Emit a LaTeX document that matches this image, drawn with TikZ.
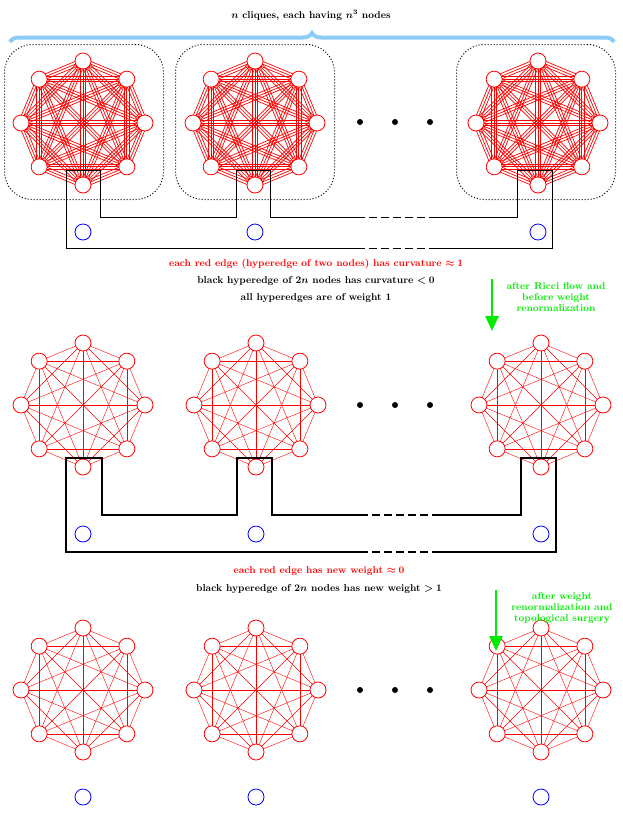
\documentclass[tikz,border=0pt]{standalone}
\usepackage{amsmath,bm}
\usetikzlibrary{calc,arrows.meta,decorations.pathreplacing}
\definecolor{lblue}{RGB}{140,205,245}
\definecolor{lgreen}{RGB}{0,235,0}
\tikzset{
  vtx/.style={circle,draw=red,fill=white,minimum size=16pt,inner sep=0pt,line width=0.8pt},
  bvtx/.style={circle,draw=blue,minimum size=16pt,inner sep=0pt,line width=0.8pt},
  redtxt/.style={text=red,font=\bfseries},
  blktxt/.style={text=black,font=\bfseries},
  grntxt/.style={text=lgreen,font=\bfseries,align=center},
  hyper/.style={black,line width=0.8pt},
  dotbox/.style={draw,dotted,line width=1pt,rounded corners=28pt},
  flow/.style={lgreen,line width=2.5pt,-{Triangle[width=13pt,length=15pt]}},
}
\newcommand{\myclique}[5]{% name, cx, cy, thick(1)/thin(0), blue y
  \foreach \k in {0,...,7}{\coordinate (#1p\k) at ({#2+62*cos(90-45*\k)},{#3-62*sin(90-45*\k)});}
  \foreach \i in {0,...,7}{\foreach \j in {0,...,7}{\ifnum\i<\j
    \ifnum#4=1
      \foreach \o in {-2.6,0,2.6}{\draw[red,line width=0.7pt] ($(#1p\i)!\o pt!90:(#1p\j)$) -- ($(#1p\j)!\o pt!-90:(#1p\i)$);}
    \else
      \draw[red,line width=0.4pt] (#1p\i) -- (#1p\j);
    \fi\fi}}
  \foreach \k in {0,...,7}{\node[vtx] (#1n\k) at (#1p\k) {};}
  \node[bvtx] (#1b) at (#2,#5) {};
}
\begin{document}
\begin{tikzpicture}[x=1pt,y=-1pt]
\useasboundingbox (0,0) rectangle (623,817);
% title and brace
\node[blktxt] (title) at (311,15) {$\bm{n}$ cliques, each having $\bm{n^3}$ nodes};
\coordinate (brL) at (10,42); \coordinate (brR) at (614,42);
\draw[lblue,line width=4pt,decorate,decoration={brace,amplitude=9pt}] (brL) -- (brR);
% dotted boxes
\node[dotbox,minimum width=159pt,minimum height=155pt] (box1) at (84,122) {};
\node[dotbox,minimum width=159pt,minimum height=155pt] (box2) at (255,122) {};
\node[dotbox,minimum width=159pt,minimum height=155pt] (box3) at (536,122) {};
% top row
\myclique{a}{83}{123}{1}{232}
\myclique{b}{255}{123}{1}{232}
\myclique{c}{538}{123}{1}{232}
% middle row
\myclique{d}{83}{405}{0}{534}
\myclique{e}{256}{405}{0}{534}
\myclique{f}{541}{405}{0}{534}
% bottom row
\myclique{g}{83}{690}{0}{797}
\myclique{h}{256}{690}{0}{797}
\myclique{i}{541}{690}{0}{797}
% ellipsis dots
\foreach \y in {122,405,690}{\foreach \x in {360,395,430}{\fill (\x,\y) circle (3pt);}}
% top hyperedge
\coordinate (t1) at (66,170); \coordinate (t2) at (66,248); \coordinate (t3) at (357,248);
\coordinate (t4) at (437,248); \coordinate (t5) at (552,248); \coordinate (t6) at (552,170);
\coordinate (t7) at (517,170); \coordinate (t8) at (517,217); \coordinate (t9) at (437,217);
\coordinate (t10) at (357,217); \coordinate (t11) at (270,217); \coordinate (t12) at (270,170);
\coordinate (t13) at (236,170); \coordinate (t14) at (236,217); \coordinate (t15) at (100,217);
\coordinate (t16) at (100,170);
\draw[hyper] (t3) -- (t2) -- (t1) -- (t16) -- (t15) -- (t14) -- (t13) -- (t12) -- (t11) -- (t10);
\draw[hyper] (t4) -- (t5) -- (t6) -- (t7) -- (t8) -- (t9);
\draw[hyper,dash pattern=on 8pt off 4pt] (t3) -- (t4) (t10) -- (t9);
% middle hyperedge
\coordinate (m1) at (66,458); \coordinate (m2) at (66,552); \coordinate (m3) at (360,552);
\coordinate (m4) at (440,552); \coordinate (m5) at (556,552); \coordinate (m6) at (556,458);
\coordinate (m7) at (521,458); \coordinate (m8) at (521,515); \coordinate (m9) at (440,515);
\coordinate (m10) at (360,515); \coordinate (m11) at (272,515); \coordinate (m12) at (272,458);
\coordinate (m13) at (237,458); \coordinate (m14) at (237,515); \coordinate (m15) at (102,515);
\coordinate (m16) at (102,458);
\draw[hyper,line width=1.6pt] (m3) -- (m2) -- (m1) -- (m16) -- (m15) -- (m14) -- (m13) -- (m12) -- (m11) -- (m10);
\draw[hyper,line width=1.6pt] (m4) -- (m5) -- (m6) -- (m7) -- (m8) -- (m9);
\draw[hyper,line width=1.6pt,dash pattern=on 8pt off 4pt] (m3) -- (m4) (m10) -- (m9);
% texts
\node[redtxt] (tx1) at (316,264) {each red edge (hyperedge of two nodes) has curvature $\bm{\approx 1}$};
\node[blktxt] (tx2) at (316,281) {black hyperedge of $\bm{2n}$ nodes has curvature $\bm{<0}$};
\node[blktxt] (tx3) at (316,298) {all hyperedges are of weight 1};
\node[grntxt] (g1) at (556,297) {after Ricci flow and\\[-1pt]before weight\\[-1pt]renormalization};
\coordinate (a1s) at (492,279); \coordinate (a1e) at (492,331);
\draw[flow] (a1s) -- (a1e);
\node[redtxt] (tx4) at (319,571) {each red edge has new weight $\bm{\approx 0}$};
\node[blktxt] (tx5) at (319,589) {black hyperedge of $\bm{2n}$ nodes has new weight $\bm{>1}$};
\node[grntxt] (g2) at (562,608) {after weight\\[-1pt]renormalization and\\[-1pt]topological surgery};
\coordinate (a2s) at (496,590); \coordinate (a2e) at (496,651);
\draw[flow] (a2s) -- (a2e);
\end{tikzpicture}
\end{document}
